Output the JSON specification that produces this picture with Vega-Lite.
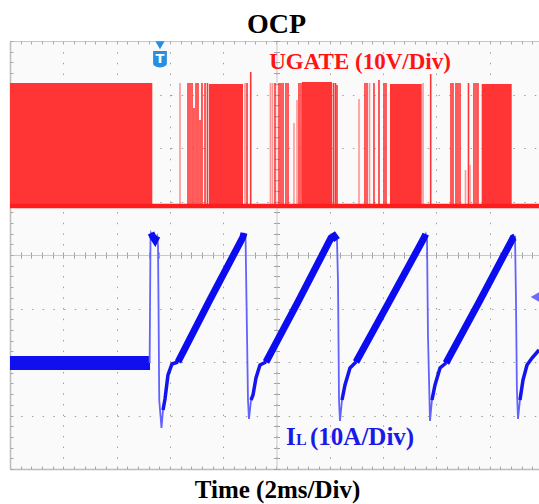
{
  "$schema": "https://vega.github.io/schema/vega-lite/v6.json",
  "width": 529,
  "height": 428,
  "autosize": {"type": "none"},
  "padding": {"left": 10, "top": 41, "right": 0, "bottom": 35},
  "background": "white",
  "title": {"text": "OCP", "font": "Liberation Serif", "fontSize": 28, "fontWeight": "bold", "color": "#000000", "anchor": "middle", "offset": 2, "dx": 2},
  "config": {"view": {"fill": "#fafafa", "stroke": null}},
  "datasets": {
    "ugateBlocks": [
      {"t0": 0, "t1": 2.67, "top": 7.215},
      {"t0": 3.733, "t1": 4.371, "top": 7.196},
      {"t0": 5.478, "t1": 6.041, "top": 7.234},
      {"t0": 7.129, "t1": 7.724, "top": 7.196},
      {"t0": 8.85, "t1": 9.413, "top": 7.196}
    ],
    "ugateLow": [{"v": 4.916}],
    "ugateSpikes": [
      {"t": 3.34, "top": 7.215}, {"t": 3.377, "top": 7.215}, {"t": 3.415, "top": 7.215}, {"t": 3.452, "top": 6.748},
      {"t": 3.49, "top": 7.215}, {"t": 3.527, "top": 7.215}, {"t": 3.565, "top": 6.523}, {"t": 3.602, "top": 7.215},
      {"t": 3.659, "top": 7.215}, {"t": 3.705, "top": 7.215},
      {"t": 4.447, "top": 7.215}, {"t": 4.516, "top": 7.421},
      {"t": 4.972, "top": 7.215}, {"t": 5.047, "top": 7.215}, {"t": 5.084, "top": 7.215}, {"t": 5.122, "top": 7.215},
      {"t": 5.178, "top": 7.215}, {"t": 5.216, "top": 7.215}, {"t": 5.422, "top": 7.215}, {"t": 5.46, "top": 7.215},
      {"t": 6.069, "top": 7.215}, {"t": 6.107, "top": 7.215}, {"t": 6.135, "top": 7.178},
      {"t": 6.66, "top": 7.215}, {"t": 6.698, "top": 7.215}, {"t": 6.829, "top": 7.215}, {"t": 6.923, "top": 7.271},
      {"t": 7.017, "top": 7.215}, {"t": 7.054, "top": 7.215},
      {"t": 7.893, "top": 7.383},
      {"t": 8.274, "top": 7.215}, {"t": 8.311, "top": 7.215}, {"t": 8.368, "top": 7.215}, {"t": 8.405, "top": 7.215},
      {"t": 8.443, "top": 7.215}, {"t": 8.602, "top": 7.215}, {"t": 8.705, "top": 7.215}, {"t": 8.743, "top": 7.215},
      {"t": 8.78, "top": 7.215}
    ],
    "ugateFaintSpikes": [
      {"t": 3.189, "top": 7.215}, {"t": 4.409, "top": 7.215}, {"t": 4.887, "top": 7.215}, {"t": 4.925, "top": 7.215},
      {"t": 5.328, "top": 6.467}, {"t": 5.385, "top": 6.897}, {"t": 6.548, "top": 6.916}, {"t": 6.745, "top": 7.215},
      {"t": 7.749, "top": 7.215}, {"t": 8.546, "top": 5.589}, {"t": 8.63, "top": 5.682}
    ],
    "ilIdle": [{"t0": 0, "t1": 2.627, "lo": 1.85, "hi": 2.112}],
    "il": [
      {"t": 2.62, "v": 1.981}, {"t": 2.636, "v": 4.28}, {"t": 2.645, "v": 4.411},
      {"t": 2.683, "v": 4.336}, {"t": 2.72, "v": 4.28}, {"t": 2.758, "v": 4.355}, {"t": 2.777, "v": 4.187},
      {"t": 2.786, "v": 3.159}, {"t": 2.8, "v": 1.29}, {"t": 2.842, "v": 0.766}, {"t": 2.871, "v": 1.103},
      {"t": 2.908, "v": 1.308}, {"t": 2.964, "v": 1.757}, {"t": 3.039, "v": 1.963}, {"t": 3.152, "v": 2.0},
      {"t": 4.371, "v": 4.336}, {"t": 4.39, "v": 4.411}, {"t": 4.42, "v": 4.28}, {"t": 4.437, "v": 3.159},
      {"t": 4.465, "v": 1.29}, {"t": 4.484, "v": 0.935}, {"t": 4.522, "v": 1.29}, {"t": 4.559, "v": 1.383},
      {"t": 4.615, "v": 1.701}, {"t": 4.69, "v": 1.944}, {"t": 4.803, "v": 2.0}, {"t": 6.023, "v": 4.318},
      {"t": 6.08, "v": 4.355}, {"t": 6.135, "v": 4.28}, {"t": 6.154, "v": 3.5}, {"t": 6.173, "v": 1.29},
      {"t": 6.191, "v": 0.897}, {"t": 6.229, "v": 1.29}, {"t": 6.285, "v": 1.57}, {"t": 6.379, "v": 1.888},
      {"t": 6.492, "v": 2.0}, {"t": 7.767, "v": 4.318}, {"t": 7.8, "v": 4.39}, {"t": 7.824, "v": 4.28},
      {"t": 7.842, "v": 2.5}, {"t": 7.88, "v": 0.897}, {"t": 7.917, "v": 1.29}, {"t": 7.974, "v": 1.57},
      {"t": 8.068, "v": 1.888}, {"t": 8.18, "v": 1.981}, {"t": 9.437, "v": 4.318}, {"t": 9.475, "v": 4.336},
      {"t": 9.493, "v": 3.159}, {"t": 9.51, "v": 1.5}, {"t": 9.531, "v": 0.935}, {"t": 9.568, "v": 1.29},
      {"t": 9.625, "v": 1.664}, {"t": 9.7, "v": 1.944}, {"t": 9.794, "v": 2.075}, {"t": 9.925, "v": 2.224}
    ],
    "ilRecovery": [
      {"cycle": 1, "t": 2.871, "v": 1.103}, {"cycle": 1, "t": 2.908, "v": 1.308}, {"cycle": 1, "t": 2.964, "v": 1.757}, {"cycle": 1, "t": 3.039, "v": 1.963}, {"cycle": 1, "t": 3.152, "v": 2.0},
      {"cycle": 2, "t": 4.522, "v": 1.29}, {"cycle": 2, "t": 4.559, "v": 1.383}, {"cycle": 2, "t": 4.615, "v": 1.701}, {"cycle": 2, "t": 4.69, "v": 1.944}, {"cycle": 2, "t": 4.803, "v": 2.0},
      {"cycle": 3, "t": 6.229, "v": 1.29}, {"cycle": 3, "t": 6.285, "v": 1.57}, {"cycle": 3, "t": 6.379, "v": 1.888}, {"cycle": 3, "t": 6.492, "v": 2.0},
      {"cycle": 4, "t": 7.917, "v": 1.29}, {"cycle": 4, "t": 7.974, "v": 1.57}, {"cycle": 4, "t": 8.068, "v": 1.888}, {"cycle": 4, "t": 8.18, "v": 1.981},
      {"cycle": 5, "t": 9.568, "v": 1.29}, {"cycle": 5, "t": 9.625, "v": 1.664}, {"cycle": 5, "t": 9.7, "v": 1.944}, {"cycle": 5, "t": 9.794, "v": 2.075}, {"cycle": 5, "t": 9.925, "v": 2.224}
    ],
    "ilRamp": [
      {"cycle": 0, "t": 2.645, "v": 4.411}, {"cycle": 0, "t": 2.683, "v": 4.336}, {"cycle": 0, "t": 2.72, "v": 4.28}, {"cycle": 0, "t": 2.758, "v": 4.355},
      {"cycle": 1, "t": 3.152, "v": 2.0}, {"cycle": 1, "t": 3.75, "v": 3.16}, {"cycle": 1, "t": 4.371, "v": 4.336}, {"cycle": 1, "t": 4.39, "v": 4.411},
      {"cycle": 2, "t": 4.803, "v": 2.0}, {"cycle": 2, "t": 5.4, "v": 3.12}, {"cycle": 2, "t": 6.023, "v": 4.318}, {"cycle": 2, "t": 6.08, "v": 4.355}, {"cycle": 2, "t": 6.135, "v": 4.28},
      {"cycle": 3, "t": 6.492, "v": 2.0}, {"cycle": 3, "t": 7.1, "v": 3.1}, {"cycle": 3, "t": 7.767, "v": 4.318}, {"cycle": 3, "t": 7.8, "v": 4.39},
      {"cycle": 4, "t": 8.18, "v": 1.981}, {"cycle": 4, "t": 8.8, "v": 3.12}, {"cycle": 4, "t": 9.437, "v": 4.318}, {"cycle": 4, "t": 9.475, "v": 4.336}
    ],
    "markers": [
      {"name": "triggerTip", "t": 2.814, "v": 7.92},
      {"name": "triggerBox", "t": 2.814, "v": 7.67},
      {"name": "ground", "t": 9.85, "v": 3.215}
    ],
    "labels": [
      {"id": "ugate", "t": 6.567, "v": 7.482, "text": "UGATE (10V/Div)"},
      {"id": "il", "t": 5.178, "v": 0.449, "text": "I"},
      {"id": "ilsub", "t": 5.366, "v": 0.449, "text": "L"},
      {"id": "ilscale", "t": 5.629, "v": 0.449, "text": "(10A/Div)"},
      {"id": "trig", "t": 2.814, "v": 7.67, "text": "T"}
    ]
  },
  "resolve": {"axis": {"x": "independent", "y": "independent"}},
  "layer": [
    {
      "data": {"name": "ugateBlocks"},
      "mark": {"type": "rect", "color": "#ff3535"},
      "encoding": {
        "x": {"field": "t0", "type": "quantitative", "scale": {"domain": [0, 9.925], "nice": false, "zero": false},
          "axis": {"values": [0, 1, 2, 3, 4, 5, 6, 7, 8, 9], "grid": true, "gridColor": "#a0a0a0", "gridDash": [1.5, 9.16], "gridWidth": 1,
            "ticks": false, "labels": false, "domain": true, "domainColor": "#bcbcbc", "domainWidth": 1.5,
            "title": "Time (2ms/Div)", "titleFont": "Liberation Serif", "titleFontSize": 25, "titleFontWeight": "bold", "titleColor": "#000000", "titlePadding": 8, "titleX": 267}},
        "x2": {"field": "t1"},
        "y": {"field": "top", "type": "quantitative", "scale": {"domain": [0, 8], "nice": false, "zero": false},
          "axis": {"values": [0, 1, 2, 3, 4, 5, 6, 7, 8], "grid": true, "gridColor": "#a0a0a0", "gridDash": [1.5, 9.2], "gridWidth": 1,
            "ticks": false, "labels": false, "domain": true, "domainColor": "#bcbcbc", "domainWidth": 1.5, "title": null}},
        "y2": {"datum": 4.916}
      }
    },
    {
      "data": {"name": "ugateSpikes"},
      "mark": {"type": "rule", "color": "#ff3535", "strokeWidth": 1.6},
      "encoding": {
        "x": {"field": "t", "type": "quantitative", "scale": {"domain": [0, 9.925], "nice": false, "zero": false},
          "axis": {"orient": "top", "values": [0,0.2,0.4,0.6,0.8,1,1.2,1.4,1.6,1.8,2,2.2,2.4,2.6,2.8,3,3.2,3.4,3.6,3.8,4,4.2,4.4,4.6,4.8,5,5.2,5.4,5.6,5.8,6,6.2,6.4,6.6,6.8,7,7.2,7.4,7.6,7.8,8,8.2,8.4,8.6,8.8,9,9.2,9.4,9.6,9.8],
            "ticks": true, "tickSize": -3, "tickColor": "#a8a8a8", "domain": true, "domainColor": "#c4c4c4", "labels": false, "grid": false, "title": null}},
        "y": {"field": "top", "type": "quantitative", "scale": {"domain": [0, 8], "nice": false, "zero": false},
          "axis": {"orient": "left", "values": [0,0.2,0.4,0.6,0.8,1,1.2,1.4,1.6,1.8,2,2.2,2.4,2.6,2.8,3,3.2,3.4,3.6,3.8,4,4.2,4.4,4.6,4.8,5,5.2,5.4,5.6,5.8,6,6.2,6.4,6.6,6.8,7,7.2,7.4,7.6,7.8,8],
            "ticks": true, "tickSize": -3, "tickColor": "#a8a8a8", "domain": false, "labels": false, "grid": false, "title": null}},
        "y2": {"datum": 4.916}
      }
    },
    {
      "data": {"name": "ugateFaintSpikes"},
      "mark": {"type": "rule", "color": "#ff9494", "strokeWidth": 1.6},
      "encoding": {
        "x": {"field": "t", "type": "quantitative", "scale": {"domain": [0, 9.925], "nice": false, "zero": false},
          "axis": {"orient": "bottom", "values": [0,0.2,0.4,0.6,0.8,1,1.2,1.4,1.6,1.8,2,2.2,2.4,2.6,2.8,3,3.2,3.4,3.6,3.8,4,4.2,4.4,4.6,4.8,5,5.2,5.4,5.6,5.8,6,6.2,6.4,6.6,6.8,7,7.2,7.4,7.6,7.8,8,8.2,8.4,8.6,8.8,9,9.2,9.4,9.6,9.8],
            "ticks": true, "tickSize": -3, "tickColor": "#a8a8a8", "domain": false, "labels": false, "grid": false, "title": null}},
        "y": {"field": "top", "type": "quantitative", "scale": {"domain": [0, 8], "nice": false, "zero": false}, "axis": null},
        "y2": {"datum": 4.916}
      }
    },
    {
      "data": {"name": "ugateLow"},
      "mark": {"type": "rule", "color": "#ff1c1c", "strokeWidth": 4.5},
      "encoding": {
        "y": {"field": "v", "type": "quantitative", "scale": {"domain": [0, 8], "nice": false, "zero": false}, "axis": null}
      }
    },
    {
      "data": {"name": "ilIdle"},
      "mark": {"type": "rect", "color": "#1010ee"},
      "encoding": {
        "x": {"field": "t0", "type": "quantitative", "scale": {"domain": [0, 9.925], "nice": false, "zero": false},
          "axis": {"orient": "bottom", "offset": -214, "values": [0,0.2,0.4,0.6,0.8,1,1.2,1.4,1.6,1.8,2,2.2,2.4,2.6,2.8,3,3.2,3.4,3.6,3.8,4,4.2,4.4,4.6,4.8,5,5.2,5.4,5.6,5.8,6,6.2,6.4,6.6,6.8,7,7.2,7.4,7.6,7.8,8,8.2,8.4,8.6,8.8,9,9.2,9.4,9.6,9.8],
            "ticks": true, "tickSize": 3, "tickColor": "#a0a0a0", "domain": true, "domainColor": "#c8c8c8", "labels": false, "grid": false, "title": null}},
        "x2": {"field": "t1"},
        "y": {"field": "lo", "type": "quantitative", "scale": {"domain": [0, 8], "nice": false, "zero": false},
          "axis": {"orient": "left", "offset": -266.5, "values": [0,0.2,0.4,0.6,0.8,1,1.2,1.4,1.6,1.8,2,2.2,2.4,2.6,2.8,3,3.2,3.4,3.6,3.8,4,4.2,4.4,4.6,4.8,5,5.2,5.4,5.6,5.8,6,6.2,6.4,6.6,6.8,7,7.2,7.4,7.6,7.8,8],
            "ticks": true, "tickSize": 3, "tickColor": "#a0a0a0", "domain": true, "domainColor": "#c8c8c8", "labels": false, "grid": false, "title": null}},
        "y2": {"field": "hi"}
      }
    },
    {
      "data": {"name": "il"},
      "mark": {"type": "line", "color": "#6262ff", "strokeWidth": 1.8},
      "encoding": {
        "x": {"field": "t", "type": "quantitative", "scale": {"domain": [0, 9.925], "nice": false, "zero": false},
          "axis": {"orient": "top", "offset": -214, "values": [0,0.2,0.4,0.6,0.8,1,1.2,1.4,1.6,1.8,2,2.2,2.4,2.6,2.8,3,3.2,3.4,3.6,3.8,4,4.2,4.4,4.6,4.8,5,5.2,5.4,5.6,5.8,6,6.2,6.4,6.6,6.8,7,7.2,7.4,7.6,7.8,8,8.2,8.4,8.6,8.8,9,9.2,9.4,9.6,9.8],
            "ticks": true, "tickSize": 3, "tickColor": "#a0a0a0", "domain": false, "labels": false, "grid": false, "title": null}},
        "y": {"field": "v", "type": "quantitative", "scale": {"domain": [0, 8], "nice": false, "zero": false},
          "axis": {"orient": "right", "offset": -262.5, "values": [0,0.2,0.4,0.6,0.8,1,1.2,1.4,1.6,1.8,2,2.2,2.4,2.6,2.8,3,3.2,3.4,3.6,3.8,4,4.2,4.4,4.6,4.8,5,5.2,5.4,5.6,5.8,6,6.2,6.4,6.6,6.8,7,7.2,7.4,7.6,7.8,8],
            "ticks": true, "tickSize": 3, "tickColor": "#a0a0a0", "domain": false, "labels": false, "grid": false, "title": null}}
      }
    },
    {
      "data": {"name": "ilRecovery"},
      "mark": {"type": "line", "color": "#1414f0", "strokeWidth": 3.5},
      "encoding": {
        "x": {"field": "t", "type": "quantitative", "scale": {"domain": [0, 9.925], "nice": false, "zero": false}, "axis": null},
        "y": {"field": "v", "type": "quantitative", "scale": {"domain": [0, 8], "nice": false, "zero": false}, "axis": null},
        "detail": {"field": "cycle", "type": "nominal"}
      }
    },
    {
      "data": {"name": "ilRamp"},
      "mark": {"type": "line", "color": "#0c0cf0", "strokeWidth": 7},
      "encoding": {
        "x": {"field": "t", "type": "quantitative", "scale": {"domain": [0, 9.925], "nice": false, "zero": false}, "axis": null},
        "y": {"field": "v", "type": "quantitative", "scale": {"domain": [0, 8], "nice": false, "zero": false}, "axis": null},
        "detail": {"field": "cycle", "type": "nominal"}
      }
    },
    {
      "data": {"name": "markers"},
      "transform": [{"filter": "datum.name === 'triggerTip'"}],
      "mark": {"type": "point", "shape": "triangle-down", "filled": true, "color": "#2a8ee0", "size": 85, "opacity": 1},
      "encoding": {
        "x": {"field": "t", "type": "quantitative", "scale": {"domain": [0, 9.925], "nice": false, "zero": false}, "axis": null},
        "y": {"field": "v", "type": "quantitative", "scale": {"domain": [0, 8], "nice": false, "zero": false}, "axis": null}
      }
    },
    {
      "data": {"name": "markers"},
      "transform": [{"filter": "datum.name === 'triggerBox'"}],
      "mark": {"type": "point", "shape": "M-1,-1.1L1,-1.1L1,0.7Q1,1.15 0,1.3Q-1,1.15 -1,0.7Z", "filled": true, "color": "#2a8ee0", "size": 190, "opacity": 1},
      "encoding": {
        "x": {"field": "t", "type": "quantitative", "scale": {"domain": [0, 9.925], "nice": false, "zero": false}, "axis": null},
        "y": {"field": "v", "type": "quantitative", "scale": {"domain": [0, 8], "nice": false, "zero": false}, "axis": null}
      }
    },
    {
      "data": {"name": "labels"},
      "transform": [{"filter": "datum.id === 'trig'"}],
      "mark": {"type": "text", "font": "DejaVu Sans", "fontSize": 13, "fontWeight": "bold", "color": "#ffffff", "baseline": "middle", "align": "center"},
      "encoding": {
        "x": {"field": "t", "type": "quantitative", "scale": {"domain": [0, 9.925], "nice": false, "zero": false}, "axis": null},
        "y": {"field": "v", "type": "quantitative", "scale": {"domain": [0, 8], "nice": false, "zero": false}, "axis": null},
        "text": {"field": "text"}
      }
    },
    {
      "data": {"name": "markers"},
      "transform": [{"filter": "datum.name === 'ground'"}],
      "mark": {"type": "point", "shape": "triangle-left", "filled": true, "color": "#6b6bff", "size": 100, "opacity": 1},
      "encoding": {
        "x": {"field": "t", "type": "quantitative", "scale": {"domain": [0, 9.925], "nice": false, "zero": false}, "axis": null},
        "y": {"field": "v", "type": "quantitative", "scale": {"domain": [0, 8], "nice": false, "zero": false}, "axis": null}
      }
    },
    {
      "data": {"name": "labels"},
      "transform": [{"filter": "datum.id === 'ugate'"}],
      "mark": {"type": "text", "font": "Liberation Serif", "fontSize": 23, "fontWeight": "bold", "color": "#ff1414", "baseline": "alphabetic", "align": "center"},
      "encoding": {
        "x": {"field": "t", "type": "quantitative", "scale": {"domain": [0, 9.925], "nice": false, "zero": false}, "axis": null},
        "y": {"field": "v", "type": "quantitative", "scale": {"domain": [0, 8], "nice": false, "zero": false}, "axis": null},
        "text": {"field": "text"}
      }
    },
    {
      "data": {"name": "labels"},
      "transform": [{"filter": "datum.id === 'il' || datum.id === 'ilscale'"}],
      "mark": {"type": "text", "font": "Liberation Serif", "fontSize": 25, "fontWeight": "bold", "color": "#1a1ae8", "baseline": "alphabetic", "align": "left"},
      "encoding": {
        "x": {"field": "t", "type": "quantitative", "scale": {"domain": [0, 9.925], "nice": false, "zero": false}, "axis": null},
        "y": {"field": "v", "type": "quantitative", "scale": {"domain": [0, 8], "nice": false, "zero": false}, "axis": null},
        "text": {"field": "text"}
      }
    },
    {
      "data": {"name": "labels"},
      "transform": [{"filter": "datum.id === 'ilsub'"}],
      "mark": {"type": "text", "font": "Liberation Serif", "fontSize": 16, "fontWeight": "bold", "color": "#1a1ae8", "baseline": "alphabetic", "align": "left"},
      "encoding": {
        "x": {"field": "t", "type": "quantitative", "scale": {"domain": [0, 9.925], "nice": false, "zero": false}, "axis": null},
        "y": {"field": "v", "type": "quantitative", "scale": {"domain": [0, 8], "nice": false, "zero": false}, "axis": null},
        "text": {"field": "text"}
      }
    }
  ]
}
